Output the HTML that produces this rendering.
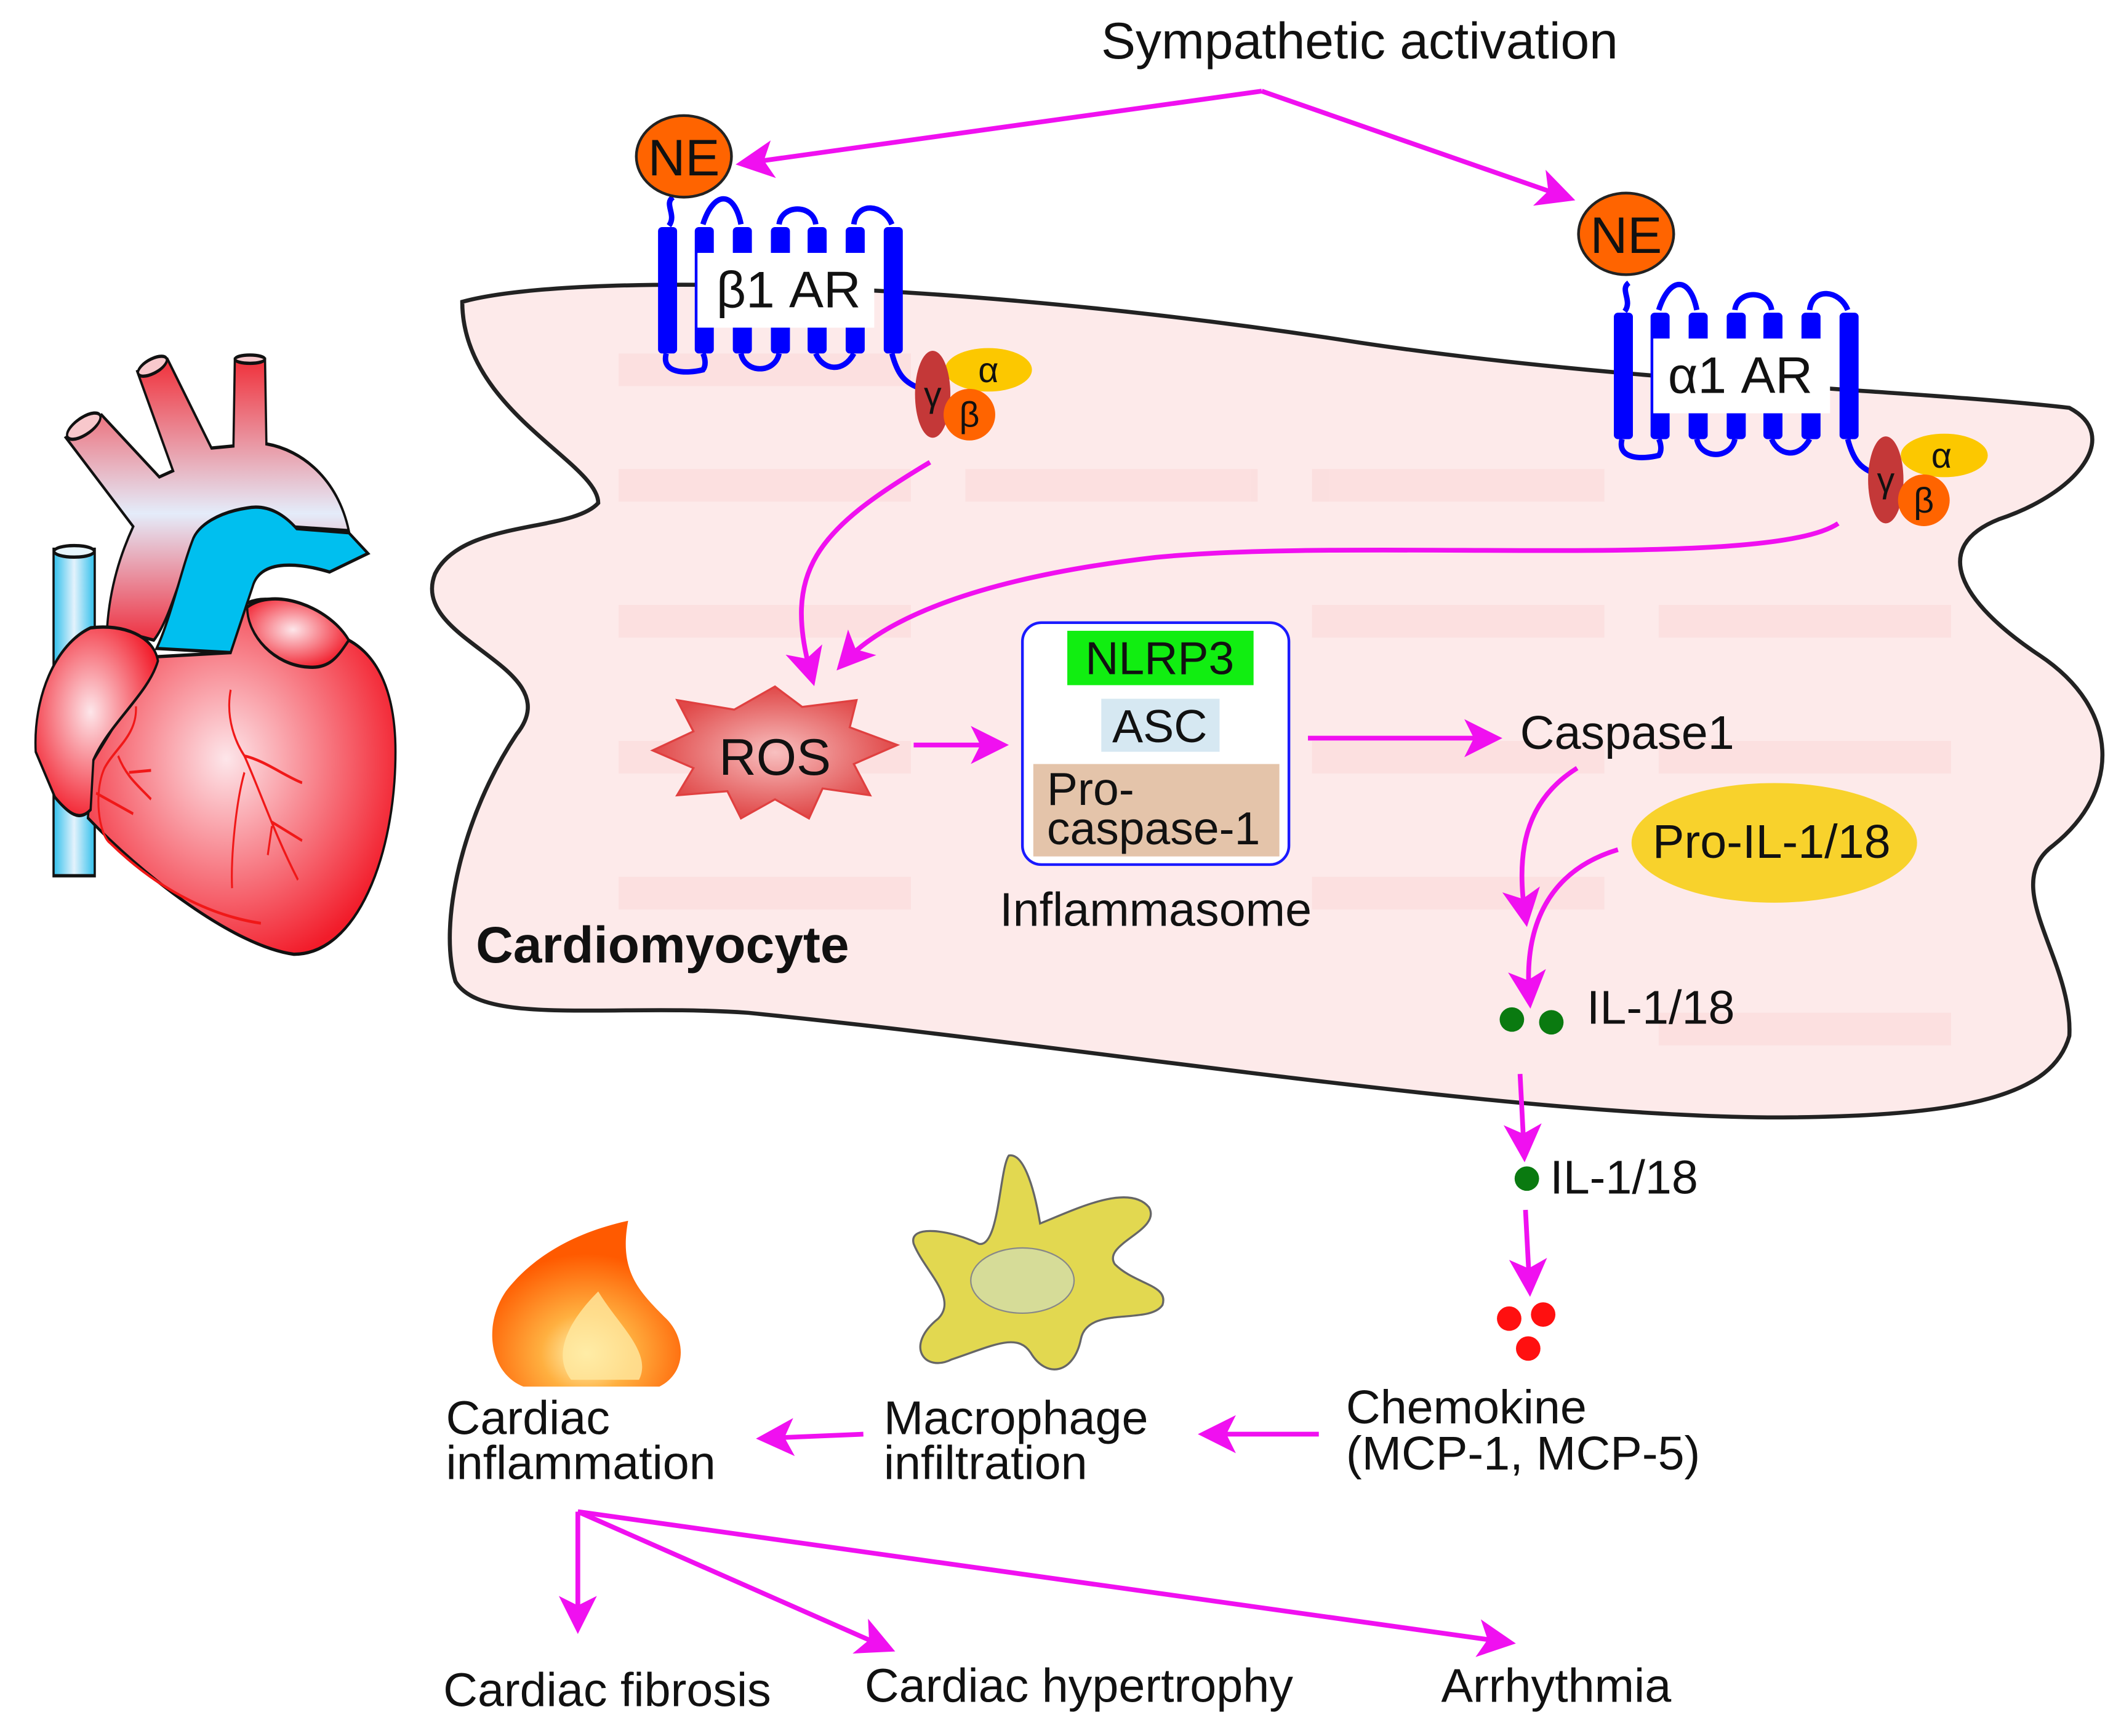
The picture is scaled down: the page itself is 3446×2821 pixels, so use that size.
<!DOCTYPE html>
<html><head><meta charset="utf-8"><style>
html,body{margin:0;padding:0;background:#fff;}
svg{display:block;}
text{font-family:"Liberation Sans",sans-serif;fill:#111;}
</style></head><body>
<svg width="3446" height="2821" viewBox="0 0 1560 1277" xmlns="http://www.w3.org/2000/svg">
<defs>
<marker id="ah" markerWidth="8" markerHeight="8" refX="6" refY="4" orient="auto" markerUnits="strokeWidth">
<path d="M0,0 L8,4 L0,8 L2,4 Z" fill="#f010f0"/></marker>
<linearGradient id="aorta" x1="0" y1="0" x2="0" y2="1">
<stop offset="0" stop-color="#f0303a"/><stop offset="0.55" stop-color="#e4ecfa"/><stop offset="1" stop-color="#ee3040"/></linearGradient>
<radialGradient id="heart" cx="0.45" cy="0.45" r="0.6">
<stop offset="0" stop-color="#fde6ea"/><stop offset="1" stop-color="#f21c2a"/></radialGradient>
<linearGradient id="tube" x1="0" y1="0" x2="1" y2="0">
<stop offset="0" stop-color="#30c0ec"/><stop offset="0.5" stop-color="#e4f2fc"/><stop offset="1" stop-color="#30c0ec"/></linearGradient>
<radialGradient id="ros" cx="0.5" cy="0.5" r="0.5">
<stop offset="0" stop-color="#f8c0c0"/><stop offset="1" stop-color="#e04848"/></radialGradient>
<radialGradient id="flame" cx="0.5" cy="0.8" r="0.6">
<stop offset="0" stop-color="#fffbc0"/><stop offset="0.4" stop-color="#ffb040"/><stop offset="1" stop-color="#ff5a00"/></radialGradient>
</defs>

<!-- Heart -->
<g transform="translate(0,249) scale(0.202,0.304)" stroke="#111" stroke-width="8">
<rect x="195" y="510" width="150" height="790" fill="url(#tube)"/>
<ellipse cx="270" cy="515" rx="73" ry="14" fill="#e8f6fd"/>
<path d="M240 240 L370 185 L580 335 L630 320 L500 80 L610 50 L770 265 L850 260 L855 50 L965 50 L970 255 C1100 270 1230 340 1270 465 L1050 455 C1000 420 900 400 830 425 L720 470 C660 560 620 680 560 730 L390 700 C400 600 440 520 485 455 Z" fill="url(#aorta)"/>
<ellipse cx="305" cy="212" rx="65" ry="22" transform="rotate(-22 305 212)" fill="#f8c8cc"/>
<ellipse cx="555" cy="67" rx="55" ry="18" transform="rotate(-18 555 67)" fill="#f8c8cc"/>
<ellipse cx="910" cy="50" rx="55" ry="10" fill="#f8c8cc"/>
<path d="M700 490 C720 450 800 420 900 410 C980 400 1040 430 1080 460 L1270 470 L1340 520 L1200 565 C1100 545 950 530 920 600 L840 760 L570 750 C620 680 660 560 700 490 Z" fill="#00bfef"/>
<path d="M320 1160 C520 1300 850 1470 1070 1490 C1300 1490 1440 1250 1440 1000 C1440 860 1380 770 1270 730 C1150 660 1000 610 900 640 L840 760 L570 770 L340 1020 Z" fill="url(#heart)"/>
<path d="M900 650 C1000 600 1200 650 1270 730 C1230 770 1200 800 1120 795 C1000 790 900 720 900 650 Z" fill="url(#heart)"/>
<path d="M130 1000 C120 870 200 740 330 700 C450 690 560 720 575 780 C540 860 400 930 340 1020 L330 1140 C290 1170 250 1150 200 1110 Z" fill="url(#heart)"/>
<g stroke="#f01818" stroke-width="7" fill="none">
<path d="M840 850 C820 920 860 980 890 1010 C950 1100 1000 1200 1085 1310"/>
<path d="M890 1010 C960 1020 1040 1060 1100 1075"/>
<path d="M890 1050 C860 1120 840 1250 845 1330"/>
<path d="M990 1170 L1100 1215 M990 1180 L975 1250"/>
<path d="M495 890 C500 960 420 990 380 1040 C340 1100 360 1200 400 1220 C600 1350 800 1400 950 1415"/>
<path d="M430 1010 C460 1060 500 1080 550 1115 M470 1050 L550 1045 M350 1100 L485 1150"/>
</g>
</g>

<!-- Cell -->
<path d="M340 222 C420 200 700 205 1000 252 C1200 282 1400 286 1522 300 C1560 320 1530 362 1470 382 C1420 402 1440 442 1500 482 C1560 522 1560 582 1510 622 C1470 652 1525 705 1522 762 C1510 805 1450 822 1300 822 C1100 820 800 770 550 745 C450 738 355 755 335 722 C322 680 340 600 380 540 C420 490 300 472 320 422 C340 382 420 392 440 370 C440 340 340 302 340 222 Z" fill="#fdeaea" stroke="#222" stroke-width="3"/>
<g fill="#fbd8d8" opacity="0.6">
<rect x="455" y="260" width="215" height="24"/><rect x="455" y="345" width="215" height="24"/><rect x="710" y="345" width="215" height="24"/><rect x="965" y="345" width="215" height="24"/>
<rect x="455" y="445" width="215" height="24"/><rect x="965" y="445" width="215" height="24"/><rect x="1220" y="445" width="215" height="24"/>
<rect x="455" y="545" width="215" height="24"/><rect x="965" y="545" width="215" height="24"/><rect x="1220" y="545" width="215" height="24"/>
<rect x="455" y="645" width="215" height="24"/><rect x="965" y="645" width="215" height="24"/><rect x="1220" y="745" width="215" height="24"/>
</g>

<text x="1000" y="43" font-size="38" text-anchor="middle">Sympathetic activation</text>
<g stroke="#f010f0" stroke-width="3.5" fill="none" marker-end="url(#ah)">
<path d="M928 67 L548 120"/>
<path d="M928 67 L1152 145"/>
</g>

<!-- beta1 AR -->
<g>
<path d="M495 145 C488 150 498 158 492 166" stroke="#0000ff" stroke-width="4" fill="none"/>
<path d="M517 165 C525 140 540 140 545 165 M573 165 C575 150 598 150 600 165 M628 165 C630 148 650 150 656 165 M490 260 C486 275 505 275 517 272 C520 268 518 262 517 260 M545 260 C548 275 570 275 573 260 M600 260 C605 272 620 275 628 260 M656 260 C660 275 665 282 678 286" stroke="#0000ff" stroke-width="4" fill="none"/>
<g fill="#0000ff">
<rect x="484" y="167" width="14" height="93" rx="3"/><rect x="511" y="167" width="14" height="93" rx="3"/><rect x="539" y="167" width="14" height="93" rx="3"/><rect x="567" y="167" width="14" height="93" rx="3"/><rect x="594" y="167" width="14" height="93" rx="3"/><rect x="622" y="167" width="14" height="93" rx="3"/><rect x="650" y="167" width="14" height="93" rx="3"/>
</g>
<rect x="513" y="186" width="130" height="55" fill="#fff"/>
<text x="580" y="226" font-size="38" text-anchor="middle">β1 AR</text>
<ellipse cx="503" cy="115" rx="35" ry="30" fill="#ff6400" stroke="#222" stroke-width="2"/>
<text x="503" y="129" font-size="38" text-anchor="middle">NE</text>
<ellipse cx="727" cy="272" rx="32" ry="16" fill="#fcc800"/>
<ellipse cx="686" cy="290" rx="13" ry="32" fill="#c43838"/>
<circle cx="713" cy="305" r="19" fill="#ff6400"/>
<text x="686" y="299" font-size="26" text-anchor="middle">γ</text>
<text x="727" y="281" font-size="26" text-anchor="middle">α</text>
<text x="713" y="314" font-size="26" text-anchor="middle">β</text>
</g>

<!-- alpha1 AR -->
<g transform="translate(703,63)">
<path d="M495 145 C488 150 498 158 492 166" stroke="#0000ff" stroke-width="4" fill="none"/>
<path d="M517 165 C525 140 540 140 545 165 M573 165 C575 150 598 150 600 165 M628 165 C630 148 650 150 656 165 M490 260 C486 275 505 275 517 272 C520 268 518 262 517 260 M545 260 C548 275 570 275 573 260 M600 260 C605 272 620 275 628 260 M656 260 C660 275 665 282 678 286" stroke="#0000ff" stroke-width="4" fill="none"/>
<g fill="#0000ff">
<rect x="484" y="167" width="14" height="93" rx="3"/><rect x="511" y="167" width="14" height="93" rx="3"/><rect x="539" y="167" width="14" height="93" rx="3"/><rect x="567" y="167" width="14" height="93" rx="3"/><rect x="594" y="167" width="14" height="93" rx="3"/><rect x="622" y="167" width="14" height="93" rx="3"/><rect x="650" y="167" width="14" height="93" rx="3"/>
</g>
<rect x="513" y="186" width="130" height="55" fill="#fff"/>
<text x="577" y="226" font-size="38" text-anchor="middle">α1 AR</text>
<ellipse cx="493" cy="109" rx="35" ry="30" fill="#ff6400" stroke="#222" stroke-width="2"/>
<text x="493" y="123" font-size="38" text-anchor="middle">NE</text>
<ellipse cx="727" cy="272" rx="32" ry="16" fill="#fcc800"/>
<ellipse cx="684" cy="290" rx="13" ry="32" fill="#c43838"/>
<circle cx="712" cy="305" r="19" fill="#ff6400"/>
<text x="684" y="299" font-size="26" text-anchor="middle">γ</text>
<text x="725" y="281" font-size="26" text-anchor="middle">α</text>
<text x="712" y="314" font-size="26" text-anchor="middle">β</text>
</g>

<!-- arrows to ROS -->
<g stroke="#f010f0" stroke-width="3.5" fill="none" marker-end="url(#ah)">
<path d="M684 340 C600 390 575 420 597 498"/>
<path d="M1352 385 C1300 420 1000 395 850 410 C720 425 650 455 620 488"/>
</g>

<!-- ROS -->
<path d="M570 505 L590 520 L630 515 L625 535 L660 548 L628 562 L640 585 L605 580 L595 602 L570 588 L545 602 L535 582 L498 585 L510 565 L480 552 L510 538 L498 515 L540 522 Z" fill="url(#ros)" stroke="#e04040" stroke-width="1.5"/>
<text x="570" y="570" font-size="38" text-anchor="middle">ROS</text>
<path d="M672 548 L735 548" stroke="#f010f0" stroke-width="3.5" marker-end="url(#ah)"/>

<!-- Inflammasome -->
<rect x="752" y="458" width="196" height="178" rx="14" fill="#fff" stroke="#1a1aff" stroke-width="2"/>
<rect x="785" y="464" width="137" height="40" fill="#11ee11"/>
<text x="853" y="496" font-size="34" text-anchor="middle">NLRP3</text>
<rect x="810" y="514" width="87" height="39" fill="#d6e8f2"/>
<text x="853" y="546" font-size="34" text-anchor="middle">ASC</text>
<rect x="760" y="562" width="181" height="68" fill="#e4c4aa"/>
<text x="770" y="592" font-size="34">Pro-</text>
<text x="770" y="621" font-size="34">caspase-1</text>
<text x="850" y="681" font-size="35" text-anchor="middle">Inflammasome</text>
<text x="350" y="708" font-size="38" font-weight="bold">Cardiomyocyte</text>

<path d="M962 543 L1098 543" stroke="#f010f0" stroke-width="3.5" marker-end="url(#ah)"/>
<text x="1118" y="551" font-size="35">Caspase1</text>
<ellipse cx="1305" cy="620" rx="105" ry="44" fill="#f8d22c"/>
<text x="1303" y="631" font-size="35" text-anchor="middle">Pro-IL-1/18</text>
<g stroke="#f010f0" stroke-width="3.5" fill="none" marker-end="url(#ah)">
<path d="M1160 565 C1120 590 1115 630 1122 675"/>
<path d="M1190 625 C1140 640 1120 680 1125 735"/>
<path d="M1118 790 L1121 848"/>
<path d="M1122 890 L1125 947"/>
</g>
<circle cx="1112" cy="750" r="9" fill="#0a7a10"/><circle cx="1141" cy="752" r="9" fill="#0a7a10"/>
<text x="1167" y="753" font-size="35">IL-1/18</text>
<circle cx="1123" cy="867" r="9" fill="#0a7a10"/>
<text x="1140" y="878" font-size="35">IL-1/18</text>
<circle cx="1110" cy="970" r="9" fill="#ff1010"/><circle cx="1135" cy="967" r="9" fill="#ff1010"/><circle cx="1124" cy="992" r="9" fill="#ff1010"/>

<text x="990" y="1047" font-size="35">Chemokine</text>
<text x="990" y="1081" font-size="35">(MCP-1, MCP-5)</text>
<text x="650" y="1055" font-size="35">Macrophage</text>
<text x="650" y="1088" font-size="35">infiltration</text>
<text x="328" y="1055" font-size="35">Cardiac</text>
<text x="328" y="1088" font-size="35">inflammation</text>
<g stroke="#f010f0" stroke-width="3.5" fill="none" marker-end="url(#ah)">
<path d="M970 1055 L888 1055"/>
<path d="M635 1055 L563 1058"/>
<path d="M425 1112 L425 1195"/>
<path d="M425 1112 L652 1212"/>
<path d="M425 1112 L1108 1208"/>
</g>
<text x="326" y="1255" font-size="35">Cardiac fibrosis</text>
<text x="636" y="1252" font-size="35">Cardiac hypertrophy</text>
<text x="1060" y="1252" font-size="35">Arrhythmia</text>

<!-- Macrophage -->
<path d="M742 850 C752 848 760 870 765 900 C790 890 830 870 845 888 C855 905 810 915 820 930 C835 945 860 945 855 960 C845 975 800 960 795 985 C790 1010 770 1015 758 995 C748 980 730 990 700 1000 C680 1010 665 990 690 970 C705 955 680 935 672 915 C668 900 700 905 720 915 C735 918 735 860 742 850 Z" fill="#e2d850" stroke="#666" stroke-width="1.5"/>
<ellipse cx="752" cy="942" rx="38" ry="24" fill="#d6dc98" stroke="#888" stroke-width="1"/>

<!-- Flame -->
<path d="M462 898 C430 905 395 920 372 950 C355 975 360 1010 385 1020 L485 1020 C505 1010 505 985 490 970 C470 950 455 935 462 898 Z" fill="url(#flame)"/>
<path d="M440 950 C420 970 405 995 420 1015 L470 1015 C480 995 455 975 440 950 Z" fill="#ffe8a0" opacity="0.8"/>
</svg>
</body></html>
